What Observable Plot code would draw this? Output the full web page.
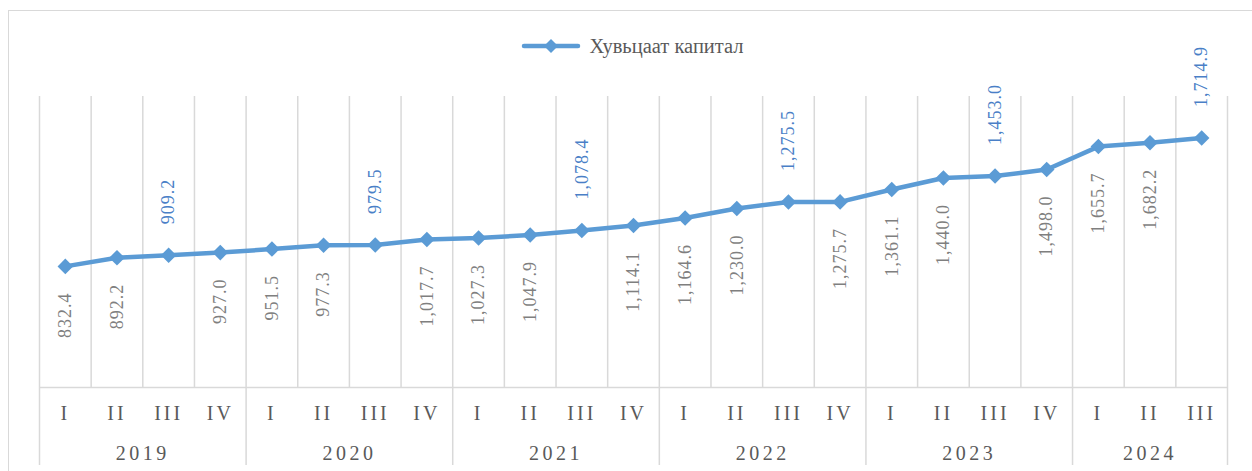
<!DOCTYPE html>
<html>
<head>
<meta charset="utf-8">
<script src="https://cdn.jsdelivr.net/npm/d3@7"></script>
<script src="https://cdn.jsdelivr.net/npm/@observablehq/plot@0.6"></script>
<style>
  html, body { margin: 0; padding: 0; background: #fff; }
  body { width: 1252px; height: 471px; position: relative; overflow: hidden; font-family: "Liberation Serif", "Times New Roman", serif; }
  #frame { position: absolute; left: 8px; top: 10px; width: 1260px; height: 480px; border: 1.5px solid #d9d9d9; box-sizing: border-box; }
  #legend { position: relative; margin-left: 39px; width: 1188px; height: 80px; display: flex; align-items: center; justify-content: center; padding-top: 12px; box-sizing: border-box; }
  #legend span { font-family: "Liberation Serif", "Times New Roman", serif; font-size: 20.5px; color: #595959; margin-left: 9px; }
  #chart { position: relative; }
</style>
</head>
<body>
<div id="frame"></div>
<div id="legend"></div>
<div id="chart"></div>
<script>
// ---- data ----
const seriesName = "Хувьцаат капитал";
const years = ["2019","2019","2019","2019","2020","2020","2020","2020","2021","2021","2021","2021",
               "2022","2022","2022","2022","2023","2023","2023","2023","2024","2024","2024"];
const quarters = ["I","II","III","IV","I","II","III","IV","I","II","III","IV",
                  "I","II","III","IV","I","II","III","IV","I","II","III"];
const values = [832.4, 892.2, 909.2, 927.0, 951.5, 977.3, 979.5, 1017.7, 1027.3, 1047.9, 1078.4, 1114.1,
                1164.6, 1230.0, 1275.5, 1275.7, 1361.1, 1440.0, 1453.0, 1498.0, 1655.7, 1682.2, 1714.9];

// ---- derived table ----
const data = values.map((v, i) => ({i, pos: i + 0.5, year: years[i], q: quarters[i], value: v}));
const yearGroups = d3.groups(data, d => d.year).map(([year, rows]) => ({
  year, start: rows[0].i, end: rows[rows.length - 1].i + 1,
  mid: (rows[0].i + rows[rows.length - 1].i + 1) / 2
}));
const boundaries = [0, ...yearGroups.map(g => g.end)];
const qByPos = new Map(data.map(d => [d.pos, d.q]));
const yByMid = new Map(yearGroups.map(g => [g.mid, g.year]));
const fmt = d3.format(",.1f");
const isAbove = d => d.q === "III";

const blue = "#5b9bd5";
const grid = "#d9d9d9";
const font = "'Liberation Serif','Times New Roman',serif";

// ---- legend ----
const leg = document.getElementById("legend");
leg.innerHTML = `<svg width="58" height="18" style="overflow:visible"><line x1="2" y1="9" x2="56" y2="9" stroke="${blue}" stroke-width="4.5" stroke-linecap="round"/><path d="M29 2 L36 9 L29 16 L22 9 Z" fill="${blue}"/></svg><span>${seriesName}</span>`;

// ---- chart ----
const chart = Plot.plot({
  width: 1252,
  height: 391,
  marginLeft: 39,
  marginRight: 25,
  marginTop: 16,
  marginBottom: 84,
  style: {fontFamily: font, background: "transparent", overflow: "visible"},
  x: {type: "linear", domain: [0, data.length], axis: null, label: null},
  y: {domain: [0, 2000], axis: null, label: null},
  marks: [
    Plot.gridX(d3.range(0, data.length + 1), {stroke: grid, strokeOpacity: 1, strokeWidth: 1.5}),
    Plot.ruleY([0], {stroke: grid, strokeWidth: 1.5}),
    Plot.axisX(boundaries, {tickSize: 78, tickFormat: () => "", label: null, stroke: grid, strokeOpacity: 1, strokeWidth: 1.5}),
    Plot.axisX(data.map(d => d.pos), {tickSize: 0, tickPadding: 18, tickFormat: p => qByPos.get(p), label: null,
      fontSize: 20, fill: "#595959"}),
    Plot.axisX(yearGroups.map(g => g.mid), {tickSize: 0, tickPadding: 58, tickFormat: p => yByMid.get(p), label: null,
      fontSize: 20, fill: "#595959"}),
    Plot.line(data, {x: "pos", y: "value", stroke: blue, strokeWidth: 4.5, strokeLinejoin: "round", strokeLinecap: "round"}),
    Plot.dot(data, {x: "pos", y: "value", symbol: "diamond2", r: 7, fill: blue, stroke: null}),
    Plot.text(data.filter(d => !isAbove(d)), {x: "pos", y: "value", text: d => fmt(d.value), rotate: -90,
      textAnchor: "end", dy: 26, fontSize: 18, fill: "#7f7f7f"}),
    Plot.text(data.filter(isAbove), {x: "pos", y: "value", text: d => fmt(d.value), rotate: -90,
      textAnchor: "start", dy: -31, fontSize: 18, fill: "#4a7fc7"})
  ]
});
document.getElementById("chart").appendChild(chart);

// letter spacing to mimic the original typography
d3.select(chart).selectAll("text").each(function() {
  const t = this.textContent;
  let ls = "1px";
  if (/^[IV]+$/.test(t)) ls = "3px";
  else if (/^\d{4}$/.test(t)) ls = "3.5px";
  this.style.letterSpacing = ls;
  this.style.fontFamily = "Liberation Serif, Times New Roman, serif";
});
</script>
</body>
</html>
